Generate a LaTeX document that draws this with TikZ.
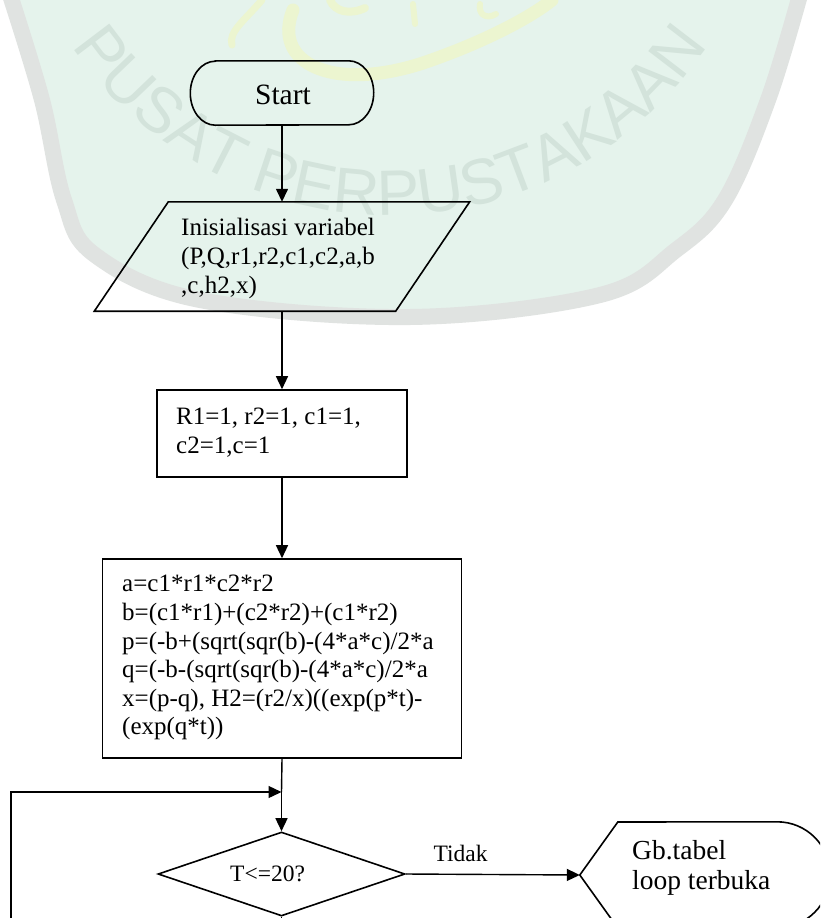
\documentclass[tikz,border=0pt]{standalone}
\usepackage{fontspec}
\setmainfont{Liberation Serif}
\newfontfamily\wmfont{Liberation Sans}
\usetikzlibrary{shapes.geometric, arrows.meta, calc, decorations.text}

\definecolor{mint}{RGB}{229,243,236}
\definecolor{ringgrey}{RGB}{224,227,225}
\definecolor{wmtext}{RGB}{211,227,219}
\definecolor{logoyel}{RGB}{236,245,208}

\begin{document}
\begin{tikzpicture}[x=1pt, y=-1pt,
  shp/.style={draw=black, line width=1.6pt},
  holder/.style={rectangle, inner sep=0pt},
  boxnode/.style={rectangle, draw=black, line width=1.6pt, inner sep=0pt},
  arr/.style={draw=black, line width=1.4pt, -{Triangle[length=13pt,width=12pt]}},
  conn/.style={draw=black, line width=1.4pt},
  txt/.style={inner sep=0pt, align=left, anchor=north west},
  f25/.style={font=\fontsize{25}{28.6}\selectfont},
  f23/.style={font=\fontsize{23.5}{27}\selectfont}
]
\useasboundingbox (0,0) rectangle (820,918);
\clip (0,0) rectangle (820,918);
\fill[white] (0,0) rectangle (820,918);

% ---- library watermark (background) ----
\fill[mint] plot[smooth, tension=0.6] coordinates {(10,-5) (42,100) (64,200) (95,255) (200,300) (410,317) (600,295) (676,250) (725,200) (768,100) (800,-5)} -- cycle;
\draw[ringgrey, line width=16pt] plot[smooth, tension=0.6] coordinates {(10,-5) (42,100) (64,200) (95,255) (200,300) (410,317) (600,295) (676,250) (725,200) (768,100) (800,-5)};
\path[decorate, decoration={text along path, text align=center,
  text={|\wmfont\fontsize{64}{64}\selectfont\color{wmtext}|PUSAT PERPUSTAKAAN}}]
  (390,-169) ++(160:384) arc[start angle=160, end angle=20, radius=384];
\draw[logoyel, line width=13pt, line cap=round] (293,10) .. controls (272,62) and (330,92) .. (420,64) .. controls (480,44) and (530,18) .. (552,0);
\draw[logoyel, line width=7pt, line cap=round] (262,0) .. controls (245,20) and (228,32) .. (232,45);
\draw[logoyel, line width=6pt, line cap=round] (413,4) -- (415,24);
\draw[logoyel, line width=8pt, line cap=round] (330,0) .. controls (335,12) and (350,15) .. (365,8);
\draw[logoyel, line width=6pt, line cap=round] (480,4) .. controls (478,14) and (486,20) .. (496,14);

% ---- flowchart ----
% Start terminal
\node[holder, minimum width=183pt, minimum height=64pt] (start) at (282,93) {};
\draw[shp] ($(start.north west)+(25,0)$) -- ($(start.north east)+(-25,0)$)
  arc[start angle=-90, end angle=90, x radius=25, y radius=32]
  -- ($(start.south west)+(25,0)$)
  arc[start angle=90, end angle=270, x radius=25, y radius=32] -- cycle;
\node[inner sep=0pt, anchor=base, font=\fontsize{29.5}{33}\selectfont] (starttext) at (283,104) {Start};

% Input parallelogram
\node[holder, minimum width=301pt, minimum height=109pt] (init) at (282,256.5) {};
\draw[shp] ($(init.north west)+(37,0)$) -- ($(init.north east)+(37,0)$)
  -- ($(init.south east)+(-37,0)$) -- ($(init.south west)+(-37,0)$) -- cycle;
\node[txt, font=\fontsize{25}{29}\selectfont] (inittext) at (181,218)
  {Inisialisasi variabel\\(P,Q,r1,r2,c1,c2,a,b\\,c,h2,x)};

% Process boxes
\node[boxnode, minimum width=250pt, minimum height=87pt] (vars) at (282,433.5) {};
\node[txt, font=\fontsize{25}{28.3}\selectfont] (varstext) at (176,408.2)
  {R1=1, r2=1, c1=1,\\c2=1,c=1};

\node[boxnode, minimum width=359pt, minimum height=199pt] (calc) at (282,658.5) {};
\node[txt, f25] (calctext) at (122,575.2)
  {a=c1*r1*c2*r2\\b=(c1*r1)+(c2*r2)+(c1*r2)\\p=(-b+(sqrt(sqr(b)-(4*a*c)/2*a\\q=(-b-(sqrt(sqr(b)-(4*a*c)/2*a\\x=(p-q), H2=(r2/x)((exp(p*t)-\\(exp(q*t))};

% Decision
\node[diamond, shp, minimum width=247pt, minimum height=84pt, inner sep=0pt] (dec) at (281.5,874) {};
\node[inner sep=0pt, anchor=base west, f23] (dect) at (230,881.5) {T<=20?};

% Display (output) symbol
\node[holder, minimum width=250pt, minimum height=106pt] (out) at (705,875) {};
\draw[shp] (out.west) -- ($(out.west)+(38,-53)$) -- ($(out.north east)+(-53,0)$)
  arc[start angle=-90, end angle=90, x radius=53, y radius=53]
  -- ($(out.west)+(38,53)$) -- cycle;
\node[txt, font=\fontsize{27.5}{30}\selectfont] (outtext) at (632,840) {Gb.tabel\\loop terbuka};

% Connectors
\coordinate (join) at (281.5,792);
\coordinate (loopstart) at (11,940);
\coordinate (yes) at (281.5,945);
\draw[arr] (start.south) -- (init.north);
\draw[arr] (init.south) -- (vars.north);
\draw[arr] (vars.south) -- (calc.north);
\draw[conn] (calc.south) -- (join);
\draw[arr] (join) -- (dec.north);
\draw[arr] (loopstart) |- (join);
\draw[conn] (dec.south) -- (yes);
\draw[arr] (dec.east) -- node[pos=0.315, anchor=base, yshift=13pt, inner sep=0pt, f23] (tidak) {Tidak} (out.west);
\end{tikzpicture}
\end{document}
